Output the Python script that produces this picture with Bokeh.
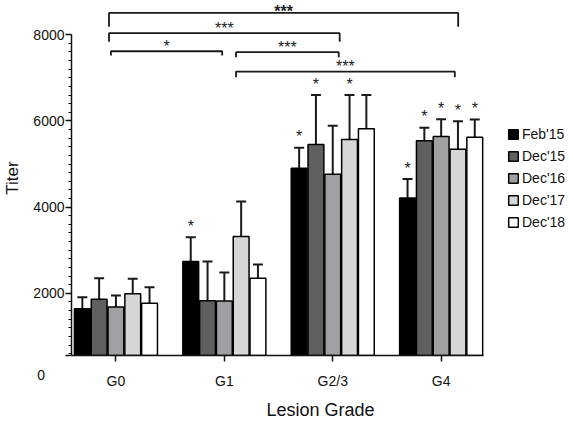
from bokeh.plotting import figure
from bokeh.models import (Range1d, FixedTicker, Legend, LegendItem,
                          ColumnDataSource)
from bokeh.embed import file_html
from bokeh.resources import INLINE
from bokeh.core.properties import value

# ---- data -------------------------------------------------------------
grades = ["G0", "G1", "G2/3", "G4"]
series = ["Feb'15", "Dec'15", "Dec'16", "Dec'17", "Dec'18"]

feb15 = [1640, 2740, 4900, 4210]
dec15 = [1860, 1830, 5450, 5540]
dec16 = [1680, 1820, 4760, 5640]
dec17 = [1990, 3320, 5570, 5340]
dec18 = [1770, 2350, 5820, 5620]

# upper error (SD)
feb15_sd = [270, 560, 480, 440]
dec15_sd = [490, 910, 1150, 300]
dec16_sd = [270, 660, 1130, 400]
dec17_sd = [350, 810, 1030, 650]
dec18_sd = [370, 320, 780, 410]

# per-bar significance marks
feb15_sig = [0, 1, 1, 1]
dec15_sig = [0, 0, 1, 1]
dec16_sig = [0, 0, 0, 1]
dec17_sig = [0, 0, 1, 1]
dec18_sig = [0, 0, 0, 1]

# group comparisons: (from, to, label)
comparisons = [("G0", "G4", "***"), ("G0", "G2/3", "***"), ("G0", "G1", "*"),
               ("G1", "G2/3", "***"), ("G1", "G4", "***")]

y_ticks = [2000, 4000, 6000, 8000]

colors = ["#000000", "#5f5f5f", "#a0a0a4", "#d6d6d6", "#ffffff"]
values = [feb15, dec15, dec16, dec17, dec18]
sds = [feb15_sd, dec15_sd, dec16_sd, dec17_sd, dec18_sd]
sigs = [feb15_sig, dec15_sig, dec16_sig, dec17_sig, dec18_sig]

FONT = "Liberation Sans"
INK = "#111111"
BASE = 557          # where the value axis starts (broken below this)
X0, X1 = -0.41, 3.39  # extent of the category axis

# the frame runs to the right edge so the legend can sit beside the bars
p = figure(width=569, height=422, output_backend="svg", toolbar_location=None,
           x_range=Range1d(X0, 4.184), y_range=Range1d(BASE, 8794),
           min_border_left=66, min_border_right=0, min_border_top=0,
           min_border_bottom=67)
p.outline_line_color = None
p.grid.visible = False
p.background_fill_color = "white"
p.border_fill_color = "white"

# ---- axes -------------------------------------------------------------
for ax in (p.xaxis[0], p.yaxis[0]):
    ax.axis_label_text_font = FONT
    ax.axis_label_text_font_style = "normal"
    ax.axis_label_text_color = INK
    ax.major_label_text_font = FONT
    ax.major_label_text_font_size = "14px"
    ax.major_label_text_color = INK
    ax.axis_line_width = 1.5
    ax.axis_line_color = INK
    ax.major_tick_line_width = 1.5
    ax.major_tick_line_color = INK
    ax.major_tick_out = 6
    ax.major_tick_in = 0

ya = p.yaxis[0]
ya.bounds = (BASE, 8000)
ya.ticker = FixedTicker(ticks=[BASE] + y_ticks,
                        minor_ticks=list(range(600, 8000, 200)))
# the origin "0" is printed below the break, away from the axis
nb = "\u00a0"
ya.major_label_overrides = {BASE: "\n\n0" + nb * 5}
ya.axis_label = "Titer"
ya.axis_label_text_font_size = "17px"
ya.axis_label_standoff = 8
ya.major_label_standoff = 1
ya.minor_tick_out = 3
ya.minor_tick_in = 0
ya.minor_tick_line_width = 1.2
ya.minor_tick_line_color = INK

xa = p.xaxis[0]
xa.bounds = (X0, X1)
xa.ticker = FixedTicker(ticks=list(range(len(grades))), minor_ticks=[])
xa.major_label_overrides = {i: g for i, g in enumerate(grades)}
xa.axis_label = "Lesion Grade"
xa.axis_label_text_font_size = "18px"
xa.axis_label_standoff = 8
xa.major_label_standoff = 11

# ---- bars, error bars, marks -----------------------------------------
pitch = 0.155
bw = 0.146
cap = 0.046
items = []
for i, (name, vals, sd, sig, col) in enumerate(zip(series, values, sds, sigs, colors)):
    xs = [g + (i - 2) * pitch for g in range(len(grades))]
    hi = [v + s for v, s in zip(vals, sd)]
    src = ColumnDataSource(dict(x=xs, top=vals, hi=hi,
                                x0=[x - cap for x in xs], x1=[x + cap for x in xs]))
    p.segment(x0="x", y0="top", x1="x", y1="hi", source=src,
              line_color="#1a1a1a", line_width=2)
    p.segment(x0="x0", y0="hi", x1="x1", y1="hi", source=src,
              line_color="#1a1a1a", line_width=2)
    r = p.vbar(x="x", top="top", bottom=0, width=bw, source=src,
               fill_color=col, line_color="black", line_width=1.5)
    items.append(LegendItem(label=name, renderers=[r]))
    sx = [x for x, s in zip(xs, sig) if s]
    sy = [h for h, s in zip(hi, sig) if s]
    p.text(x=sx, y=sy, text=["*"] * len(sx), text_align="center",
           text_baseline="alphabetic", y_offset=-11,
           text_font=value(FONT), text_font_size="16px", text_color="#222222")

# ---- comparison brackets ---------------------------------------------
gi = {g: k for k, g in enumerate(grades)}
bracket_layout = [  # (left shift, right shift, level, leg drop, label lift)
    (-0.064, 0.157, 8506, 320, -1),
    (-0.064, 0.064, 8035, 200, -5),
    (-0.046, -0.02, 7617, 100, -5),
    (0.108, 0.055, 7594, 115, -5),
    (0.108, 0.126, 7146, 130, -5),
]
for (a, b, lab), (da, db, lvl, drop, lift) in zip(comparisons, bracket_layout):
    xa0 = gi[a] + da
    xb0 = gi[b] + db
    p.line(x=[xa0, xa0, xb0, xb0], y=[lvl - drop, lvl, lvl, lvl - drop],
           line_color="#1a1a1a", line_width=1.8)
    p.text(x=[(xa0 + xb0) / 2], y=[lvl], text=[lab], text_align="center",
           text_baseline="alphabetic", y_offset=lift,
           text_font=value(FONT), text_font_size="16px", text_color="#222222",
           text_font_style="bold" if lvl > 8400 else "normal")

# ---- legend -----------------------------------------------------------
legend = Legend(items=items, location=(436, 125), padding=0, margin=0,
                spacing=6, glyph_width=12, glyph_height=12, label_height=12,
                label_standoff=3, label_text_font=FONT,
                label_text_font_size="14px", label_text_color=INK,
                border_line_color=None, background_fill_alpha=0)
p.add_layout(legend)

open("out.html", "w").write(file_html(p, INLINE))
